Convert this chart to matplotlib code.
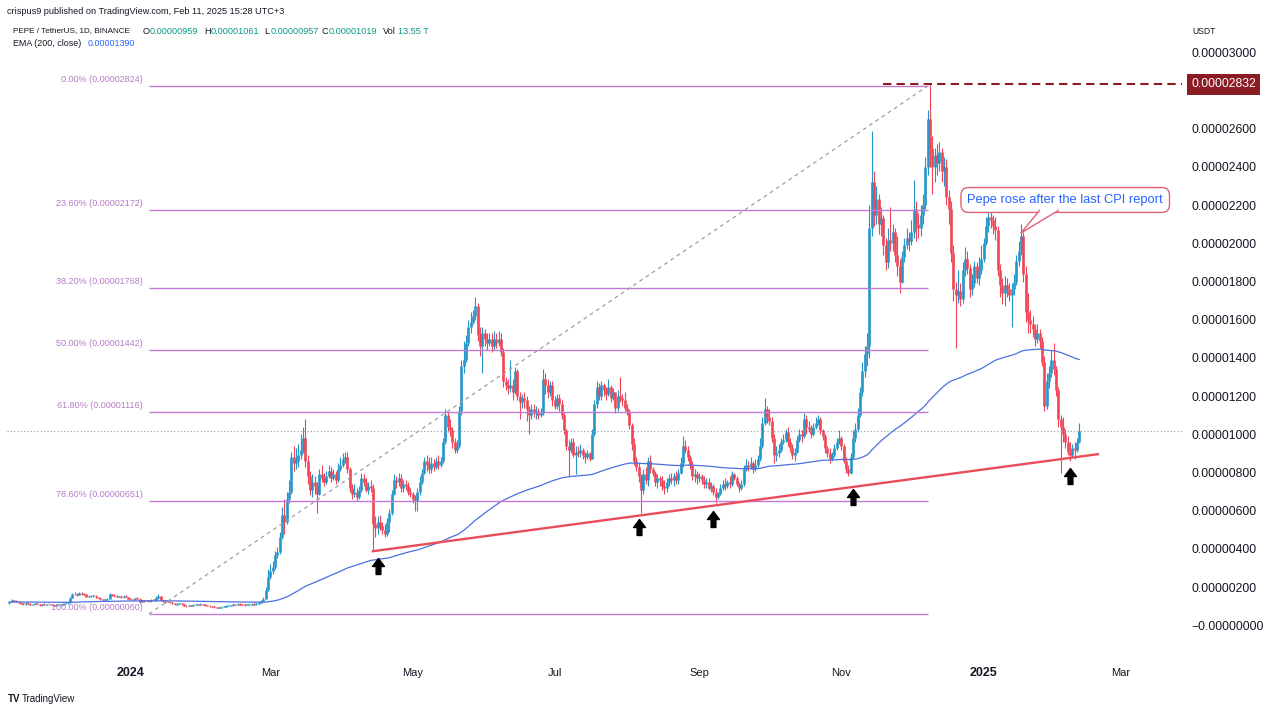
import numpy as np
import matplotlib
matplotlib.use("Agg")
import matplotlib.pyplot as plt
from matplotlib.path import Path
from matplotlib.patches import Polygon

plt.rcParams["font.family"] = ["Liberation Sans", "DejaVu Sans"]

# PEPE / TetherUS daily candles (Binance).
# Prices are in millionths of a USDT: 9.59 means 0.00000959.
# Open of each day is the previous close.
first_day = "2023-11-10"
first_open = 1.15

closes = [
    1.24, 1.30, 1.28, 1.22, 1.18, 1.15, 1.10, 1.18, 1.12, 1.10, 1.12, 1.15, 1.12, 1.05, 1.12, 1.10, 1.12, 1.11, 1.08, 1.04, 1.07, 1.08, 1.10,
    1.12, 1.15, 1.20, 1.45, 1.62, 1.66, 1.60, 1.68, 1.64, 1.62, 1.50, 1.55, 1.52, 1.56, 1.48, 1.45, 1.38, 1.32, 1.34, 1.40, 1.62, 1.58, 1.55, 1.50, 1.52, 1.46, 1.55, 1.48, 1.40, 1.38, 1.36,
    1.42, 1.40, 1.22, 1.30, 1.28, 1.30, 1.26, 1.35, 1.32, 1.45, 1.52, 1.30, 1.28, 1.22, 1.24, 1.20, 1.16, 1.10, 1.12, 1.14, 1.10, 1.02, 1.00, 1.04, 1.03, 1.08, 1.10, 1.09, 1.12, 1.10, 1.05,
    1.02, 1.00, 0.98, 0.95, 0.92, 0.93, 0.96, 0.98, 1.02, 1.03, 1.04, 1.10, 1.08, 1.12, 1.10, 1.08, 1.06, 1.08, 1.10, 1.12, 1.10, 1.15, 1.18, 1.25, 1.40, 1.85, 2.55, 2.85, 3.05,
    3.70, 3.85, 4.60, 5.80, 5.40, 6.60, 7.00, 8.80, 8.50, 8.60, 8.90, 9.20, 9.80, 8.60, 7.80, 7.10, 7.50, 7.30, 6.90, 7.90, 7.70, 7.50, 7.80, 8.10, 7.70, 7.90, 7.60, 8.20, 8.40, 8.70, 8.80,
    8.20, 7.20, 6.90, 7.00, 6.70, 7.10, 7.70, 7.50, 7.10, 7.30, 7.20, 5.30, 5.10, 5.40, 5.20, 5.00, 4.80, 5.40, 5.90, 6.90, 7.60, 7.50, 7.70, 7.20, 7.40, 7.30, 7.00, 6.90, 6.60, 6.50,
    7.00, 7.50, 8.00, 8.60, 8.40, 8.20, 8.50, 8.30, 8.60, 8.40, 8.60, 9.60, 11.00, 10.40, 10.20, 9.60, 9.20, 9.40, 11.20, 13.60, 13.90, 14.80, 15.60, 15.90, 16.20, 16.70, 15.20, 14.60, 15.30, 15.00, 14.80,
    15.00, 14.60, 15.00, 14.80, 15.00, 14.30, 12.80, 12.60, 12.40, 12.60, 12.20, 13.30, 12.00, 11.70, 11.90, 11.80, 11.30, 11.00, 11.30, 11.10, 11.20, 11.00, 11.10, 12.90, 12.60, 12.20, 12.60, 11.80, 11.50, 11.90,
    11.60, 11.00, 10.20, 9.40, 9.20, 9.60, 8.90, 9.10, 9.00, 9.20, 8.90, 8.80, 9.00, 8.70, 10.00, 11.60, 12.50, 12.00, 12.60, 12.30, 12.10, 12.50, 11.90, 12.20, 11.40, 12.00, 11.90, 11.80, 11.40, 11.20, 10.50,
    9.50, 8.60, 8.30, 7.80, 7.10, 7.90, 7.60, 8.60, 8.20, 8.00, 7.50, 7.70, 7.60, 7.30, 7.20, 7.50, 7.70, 7.60, 7.80, 7.60, 8.00, 8.50, 9.40, 9.20, 8.80, 8.40, 7.80, 7.90, 7.70, 7.80, 7.60,
    7.40, 7.50, 7.20, 7.30, 7.00, 6.70, 6.90, 7.20, 7.40, 7.30, 7.50, 7.40, 7.90, 7.70, 7.40, 7.20, 7.40, 8.20, 8.40, 8.30, 8.50, 8.20, 8.40, 8.70, 9.40, 10.60, 11.30, 10.90, 10.70, 9.80,
    8.90, 9.00, 9.20, 9.60, 9.70, 10.10, 9.60, 9.30, 8.90, 9.10, 9.70, 10.00, 9.90, 10.80, 10.40, 10.30, 10.00, 10.40, 10.60, 10.80, 10.20, 9.90, 9.30, 9.00, 8.70, 8.90, 9.30, 9.60, 9.80, 9.40, 8.60,
    8.20, 8.00, 8.80, 9.80, 10.30, 11.00, 12.20, 13.30, 14.20, 14.60, 20.80, 23.20, 21.50, 22.30, 21.00, 21.30, 19.90, 19.00, 20.20, 20.00, 20.60, 19.40, 18.80, 18.00, 19.30, 19.90, 20.30, 20.10,
    20.60, 21.80, 21.00, 20.80, 21.50, 22.00, 24.00, 26.50, 25.00, 24.00, 24.60, 24.20, 24.80, 23.80, 24.00, 22.40, 21.80, 19.50, 17.60, 17.30, 17.50, 17.10, 18.60, 19.20, 18.70, 17.60, 17.90, 18.80, 18.20, 18.60, 19.20,
    20.00, 20.90, 21.40, 21.20, 20.90, 20.70, 18.60, 17.80, 17.40, 17.80, 17.60, 17.30, 17.60, 18.00, 19.10, 19.60, 20.40, 18.40, 16.40, 16.00, 15.80, 15.50, 15.00, 15.30, 14.90, 13.80, 11.50, 12.80, 13.20, 13.90, 13.40,
    12.30, 10.80, 10.40, 10.00, 9.60, 9.10, 8.90, 9.30, 9.20, 9.59, 10.19,
]

highs = [
    1.28, 1.36, 1.34, 1.30, 1.25, 1.21, 1.17, 1.21, 1.20, 1.15, 1.14, 1.17, 1.17, 1.14, 1.14, 1.15, 1.14, 1.15, 1.13, 1.10, 1.09, 1.10, 1.12,
    1.15, 1.17, 1.22, 1.50, 1.68, 1.75, 1.70, 1.72, 1.72, 1.68, 1.64, 1.58, 1.58, 1.60, 1.58, 1.50, 1.48, 1.40, 1.37, 1.43, 1.70, 1.66, 1.62, 1.58, 1.56, 1.54, 1.60, 1.57, 1.50, 1.42, 1.40,
    1.45, 1.48, 1.42, 1.33, 1.33, 1.33, 1.31, 1.38, 1.38, 1.55, 1.62, 1.54, 1.33, 1.30, 1.27, 1.26, 1.22, 1.18, 1.15, 1.17, 1.16, 1.12, 1.04, 1.07, 1.06, 1.10, 1.13, 1.12, 1.15, 1.14, 1.12,
    1.08, 1.05, 1.02, 1.00, 0.98, 0.96, 0.99, 1.01, 1.06, 1.07, 1.08, 1.14, 1.13, 1.15, 1.15, 1.13, 1.10, 1.11, 1.14, 1.16, 1.16, 1.19, 1.22, 1.30, 1.50, 2.00, 2.95, 3.20, 3.35,
    3.90, 4.10, 4.90, 6.20, 6.60, 7.00, 7.60, 9.10, 9.40, 9.30, 9.50, 10.00, 10.40, 10.80, 8.90, 8.10, 7.90, 7.80, 7.50, 8.20, 8.40, 8.00, 8.10, 8.40, 8.30, 8.20, 8.10, 8.50, 8.80, 9.00, 9.10,
    9.10, 8.30, 7.40, 7.40, 7.20, 7.30, 8.00, 7.90, 7.70, 7.50, 7.60, 7.40, 5.70, 5.70, 5.80, 5.40, 5.30, 5.60, 6.10, 7.10, 7.90, 7.80, 8.00, 7.90, 7.60, 7.60, 7.50, 7.20, 7.00, 6.80,
    7.20, 7.80, 8.20, 8.80, 8.90, 8.80, 8.80, 8.70, 8.80, 8.90, 8.80, 9.80, 11.30, 11.20, 10.80, 10.40, 9.80, 9.70, 11.50, 13.90, 14.90, 15.20, 16.00, 16.40, 16.50, 17.20, 16.90, 15.60, 15.60, 15.50, 15.30,
    15.30, 15.30, 15.40, 15.30, 15.40, 15.30, 14.50, 13.00, 12.90, 13.90, 12.90, 13.50, 13.40, 12.20, 12.10, 12.20, 12.00, 11.50, 11.60, 11.60, 11.50, 11.40, 11.40, 13.40, 13.20, 12.90, 12.80, 12.80, 12.00, 12.10,
    12.10, 11.80, 11.10, 10.30, 9.70, 9.80, 9.80, 9.40, 9.40, 9.50, 9.30, 9.10, 9.20, 9.10, 10.30, 11.80, 12.80, 12.70, 12.80, 12.70, 12.50, 12.90, 12.60, 12.40, 12.20, 12.30, 13.00, 12.10, 12.20, 11.60, 11.30,
    10.60, 9.80, 8.80, 8.50, 7.90, 8.20, 8.30, 8.80, 8.90, 8.30, 8.10, 7.90, 7.80, 7.80, 7.60, 7.70, 7.90, 8.00, 8.00, 8.10, 8.20, 8.80, 9.90, 9.70, 9.40, 8.90, 8.60, 8.20, 8.10, 8.00, 7.90,
    7.80, 7.70, 7.70, 7.50, 7.40, 7.20, 7.00, 7.40, 7.60, 7.70, 7.60, 7.80, 8.10, 8.00, 7.80, 7.50, 7.60, 8.40, 8.70, 8.60, 8.80, 8.60, 8.70, 8.90, 9.80, 10.90, 11.90, 11.50, 11.30, 10.90,
    10.00, 9.40, 9.50, 9.80, 10.00, 10.30, 10.40, 9.80, 9.50, 9.30, 9.90, 10.30, 10.20, 11.10, 11.00, 10.70, 10.50, 10.60, 10.90, 11.00, 10.90, 10.30, 10.00, 9.40, 9.30, 9.10, 9.50, 9.80, 10.20, 9.90, 9.50,
    8.80, 8.40, 9.00, 10.20, 10.60, 11.40, 12.50, 13.80, 14.60, 15.30, 22.00, 25.90, 23.80, 23.00, 22.60, 21.90, 21.50, 20.30, 20.80, 21.90, 21.00, 20.80, 20.40, 19.20, 19.60, 20.30, 20.80, 20.60,
    21.20, 23.30, 22.20, 21.60, 22.00, 22.60, 24.50, 27.00, 28.32, 25.60, 25.00, 25.20, 25.30, 25.00, 24.50, 24.40, 22.80, 22.20, 19.90, 18.00, 18.60, 17.90, 19.00, 19.80, 19.60, 18.90, 18.40, 19.10, 19.00, 19.30, 19.90,
    20.30, 21.40, 21.80, 21.90, 21.50, 21.40, 20.90, 18.90, 18.20, 18.30, 18.20, 17.90, 17.90, 18.40, 19.40, 20.10, 21.00, 20.60, 18.80, 17.40, 16.50, 16.20, 15.80, 15.80, 15.50, 15.10, 14.10, 13.20, 13.60, 14.40, 14.80,
    13.60, 12.50, 11.00, 10.90, 10.30, 9.90, 9.60, 9.50, 9.60, 9.80, 10.61,
]

lows = [
    1.12, 1.21, 1.25, 1.20, 1.16, 1.13, 1.07, 1.08, 1.10, 1.07, 1.08, 1.10, 1.10, 1.02, 1.03, 1.08, 1.08, 1.09, 1.06, 1.02, 1.02, 1.05, 1.06,
    1.08, 1.10, 1.13, 1.18, 1.42, 1.58, 1.55, 1.58, 1.60, 1.58, 1.48, 1.47, 1.49, 1.50, 1.45, 1.42, 1.35, 1.29, 1.30, 1.32, 1.38, 1.54, 1.52, 1.47, 1.48, 1.44, 1.44, 1.46, 1.38, 1.35, 1.32,
    1.33, 1.36, 1.15, 1.20, 1.24, 1.26, 1.23, 1.24, 1.28, 1.28, 1.40, 1.26, 1.24, 1.19, 1.20, 1.18, 1.14, 1.08, 1.08, 1.10, 1.08, 1.00, 0.96, 0.99, 1.00, 1.01, 1.06, 1.06, 1.07, 1.08, 1.02,
    1.00, 0.97, 0.96, 0.92, 0.88, 0.90, 0.92, 0.95, 0.97, 1.00, 1.01, 1.02, 1.05, 1.06, 1.07, 1.05, 1.03, 1.04, 1.06, 1.08, 1.06, 1.08, 1.13, 1.16, 1.22, 1.38, 1.80, 2.40, 2.70,
    2.95, 3.50, 3.75, 4.50, 4.80, 5.30, 6.40, 6.90, 8.10, 8.20, 8.30, 8.70, 9.00, 8.30, 7.40, 6.80, 6.70, 6.90, 5.90, 6.80, 7.50, 7.30, 7.40, 7.70, 7.50, 7.60, 7.40, 7.50, 8.10, 8.30, 8.50,
    8.00, 7.00, 6.60, 6.70, 6.50, 6.60, 7.00, 7.30, 7.00, 6.90, 7.00, 3.90, 4.60, 4.80, 5.00, 4.80, 4.60, 4.70, 4.90, 5.80, 6.80, 7.20, 7.30, 7.00, 7.00, 7.10, 6.80, 6.70, 6.40, 6.00,
    6.00, 6.80, 7.40, 7.90, 8.10, 8.00, 8.00, 8.10, 8.20, 8.20, 8.30, 8.50, 9.50, 10.10, 9.90, 9.30, 9.00, 9.00, 9.30, 11.00, 13.20, 13.80, 14.60, 15.30, 15.80, 16.00, 14.90, 14.10, 13.20, 14.60, 14.40,
    14.60, 14.30, 14.40, 14.50, 14.60, 14.10, 12.50, 12.30, 12.10, 12.20, 11.80, 12.10, 11.80, 10.80, 11.40, 11.40, 10.70, 10.00, 10.80, 10.90, 10.80, 10.80, 10.90, 11.00, 12.10, 11.90, 12.00, 11.50, 11.30, 11.30,
    11.20, 10.80, 10.00, 9.20, 7.80, 9.00, 8.80, 7.90, 8.80, 8.80, 8.70, 8.50, 8.70, 8.60, 8.70, 9.90, 11.40, 11.80, 11.80, 12.00, 11.80, 12.00, 11.70, 11.80, 11.10, 11.20, 11.70, 11.50, 11.20, 11.00, 10.30,
    9.20, 8.40, 8.10, 7.50, 5.90, 6.90, 7.40, 7.30, 8.00, 7.80, 7.30, 7.20, 7.30, 7.10, 6.90, 7.00, 7.30, 7.40, 7.30, 7.40, 7.40, 7.90, 8.30, 9.00, 8.60, 8.20, 7.60, 7.50, 7.40, 7.50, 7.40,
    7.20, 7.20, 7.10, 7.00, 6.80, 6.40, 6.60, 6.80, 7.10, 7.10, 7.20, 7.20, 7.30, 7.60, 7.30, 7.00, 7.10, 7.30, 8.10, 8.10, 8.20, 8.00, 8.10, 8.30, 8.60, 9.30, 10.50, 10.60, 10.50, 9.60,
    8.50, 8.60, 8.80, 9.10, 9.50, 9.60, 9.40, 9.10, 8.70, 8.60, 9.00, 9.60, 9.60, 9.80, 10.00, 10.10, 9.80, 9.90, 10.30, 10.50, 10.00, 9.70, 9.00, 8.80, 8.50, 8.60, 8.80, 9.20, 9.50, 9.20, 8.50,
    8.00, 7.80, 7.90, 8.70, 9.60, 10.10, 10.90, 12.00, 13.00, 13.60, 14.00, 20.40, 20.90, 21.00, 20.50, 20.40, 19.40, 18.60, 18.70, 19.60, 19.60, 19.00, 18.30, 17.40, 17.90, 19.00, 19.70, 19.60,
    19.90, 20.30, 20.10, 20.30, 20.40, 21.00, 21.80, 23.60, 24.00, 22.60, 23.20, 23.60, 23.80, 23.20, 23.00, 22.00, 21.00, 19.00, 17.00, 14.50, 16.90, 16.70, 16.90, 18.30, 18.40, 17.20, 17.30, 17.70, 17.90, 17.80, 18.40,
    19.00, 19.90, 20.60, 20.80, 20.50, 20.20, 18.30, 17.20, 16.80, 16.70, 17.20, 17.00, 15.60, 17.30, 17.80, 18.80, 19.40, 18.00, 15.90, 15.30, 15.30, 15.10, 14.60, 14.80, 14.50, 13.60, 11.20, 11.30, 12.40, 13.00, 13.10,
    12.00, 10.40, 8.00, 9.60, 9.30, 8.90, 8.60, 8.80, 8.70, 9.10, 9.57,
]

ema_seed = 1.22              # EMA(200) level at the left edge of the chart
ema_label = "0.00001390"
last_volume = "13.55 T"

# Fibonacci retracement drawn by the author
fib_levels = [0.0, 0.236, 0.382, 0.5, 0.618, 0.786, 1.0]
fib_prices = [28.24, 21.72, 17.68, 14.42, 11.16, 6.51, 0.60]
fib_span = ["2024-01-09", "2024-12-08"]

# rising support line and the arrows under it
support_dates = ["2024-04-14", "2025-02-19"]
support_prices = [3.88, 8.96]
arrow_dates = ["2024-04-16", "2024-08-06", "2024-09-07", "2024-11-06", "2025-02-07"]
arrow_prices = [3.09, 5.15, 5.57, 6.72, 7.82]

peak_price = 28.32
peak_line_from = "2024-11-19"

note_text = "Pepe rose after the last CPI report"
note_date, note_price = "2025-02-05", 22.27
note_tip_date, note_tip_price = "2025-01-17", 20.54
note_base_dates = ["2025-01-25", "2025-02-02"]

tick_dates = ["2024-01-01", "2024-03-01", "2024-05-01", "2024-07-01",
              "2024-09-01", "2024-11-01", "2025-01-01", "2025-03-01"]
tick_labels = ["2024", "Mar", "May", "Jul", "Sep", "Nov", "2025", "Mar"]
price_ticks = [0, 2, 4, 6, 8, 10, 12, 14, 16, 18, 20, 22, 24, 26, 28, 30]
price_tick_labels = ["\u22120.00000000", "0.00000200", "0.00000400", "0.00000600",
                     "0.00000800", "0.00001000", "0.00001200", "0.00001400",
                     "0.00001600", "0.00001800", "0.00002000", "0.00002200",
                     "0.00002400", "0.00002600", "0.00002800", "0.00003000"]

M = 1e-6
origin = np.datetime64("2024-01-01")


def day(s):
    return float((np.datetime64(s) - origin).astype(int))


c = np.array(closes) * M
o = np.r_[first_open * M, c[:-1]]
h = np.maximum(np.array(highs) * M, np.maximum(o, c))
l = np.minimum(np.array(lows) * M, np.minimum(o, c))
t = (np.datetime64(first_day) + np.arange(len(c)) - origin).astype(int)

UP, DOWN = "#2596c8", "#ef4556"
DARK = "#131722"
col = np.where(c >= o, UP, DOWN)

W, H = 1280, 712
fig = plt.figure(figsize=(W / 100, H / 100), dpi=100)
ax = fig.add_axes([7 / W, 1 - 655 / H, 1175 / W, 655 / H])
ax.set_xlim(-52.98, 451.1)
ax.set_ylim(-1.555 * M, 32.74 * M)
for s in ax.spines.values():
    s.set_visible(False)

# candles: thin wick + thicker body line
ax.vlines(t, l, h, colors=col, lw=0.8, zorder=2)
top = np.maximum(o, c)
bot = np.minimum(o, c)
pad = np.maximum(0.05 * M - (top - bot), 0) / 2
ax.vlines(t, bot - pad, top + pad, colors=col, lw=1.9, zorder=2.1,
          capstyle="butt")

# EMA 200 of the closes
ema = []
val = ema_seed * M
for price in c:
    val += (price - val) * 2 / 201
    ema.append(val)
ax.plot(t, ema, color="#4c6fe0", lw=0.9, zorder=3)

# current price
ax.axhline(c[-1], color="#9598a1", lw=0.8, ls=(0, (1, 2)), zorder=3)

# fib retracement
f0, f1 = day(fib_span[0]), day(fib_span[1])
for lvl, p in zip(fib_levels, fib_prices):
    ax.hlines(p * M, f0, f1, color="#c27bd4", lw=1.0, zorder=4)
    ax.annotate(f"{lvl * 100:.2f}% ({p * M:.8f})", (f0, p * M), xytext=(-4.5, 1.5),
                textcoords="offset points", ha="right", va="bottom",
                fontsize=6.5, color="#b47cc7", zorder=5)
ax.plot([f0, f1], [fib_prices[-1] * M, fib_prices[0] * M], color="#9e9e9e",
        lw=0.9, ls=(0, (3, 3)), zorder=4)

# support line + arrows
ax.plot([day(d) for d in support_dates], np.array(support_prices) * M,
        color="#ea4c5a", lw=1.7, zorder=5)
arrow = Path([(0, 0.5), (0.375, 0.0), (0.15, 0.0), (0.15, -0.5), (-0.15, -0.5),
              (-0.15, 0.0), (-0.375, 0.0), (0, 0.5)],
             [Path.MOVETO] + [Path.LINETO] * 6 + [Path.CLOSEPOLY])
ax.plot([day(d) for d in arrow_dates], np.array(arrow_prices) * M, ls="none",
        marker=arrow, ms=11.5, color="black", mec="black", zorder=6)

# all time high line + price tag
ax.hlines(peak_price * M, day(peak_line_from), ax.get_xlim()[1], colors="#8c1c24",
          lw=1.5, linestyles=(0, (4, 2.5)), zorder=5)
ax.annotate(f"{peak_price * M:.8f}", xy=(1, peak_price * M),
            xycoords=("axes fraction", "data"), xytext=(6.5, 0),
            textcoords="offset points", ha="left", va="center", fontsize=8.8,
            color="white", bbox=dict(boxstyle="square,pad=0.35", fc="#8c1c24", ec="none"),
            zorder=10, annotation_clip=False)

# callout
ax.text(day(note_date), note_price * M, note_text, ha="center", va="center",
        fontsize=9.3, color="#2962ff", zorder=7,
        bbox=dict(boxstyle="round,pad=0.5,rounding_size=0.6", fc="white",
                  ec="#e0607a", lw=1.0))
tip = (day(note_tip_date), note_tip_price * M)
base_y = (note_price - 0.55) * M
b0, b1 = day(note_base_dates[0]), day(note_base_dates[1])
ax.add_patch(Polygon([tip, (b0, base_y), (b1, base_y)], closed=True, fc="white",
                     ec="none", zorder=8))
ax.plot([b0, tip[0], b1], [base_y, tip[1], base_y], color="#e0607a", lw=1.0, zorder=8)

# axes
ax.set_xticks([day(d) for d in tick_dates])
ax.set_xticklabels(tick_labels)
ax.tick_params(axis="x", length=0, pad=9, labelsize=8, colors=DARK)
for lbl in ax.get_xticklabels():
    if lbl.get_text().isdigit():
        lbl.set_fontweight("bold")
        lbl.set_fontsize(9)
ax.yaxis.tick_right()
ax.set_yticks(np.array(price_ticks) * M)
ax.set_yticklabels(price_tick_labels)
ax.tick_params(axis="y", length=0, pad=6.5, labelsize=8.8, colors=DARK)


def ftext(x, y, s, **kw):
    fig.text(x / W, 1 - y / H, s, va="center", **kw)


ftext(1192, 32, "USDT", fontsize=6.2, color=DARK)

# header
ftext(7, 12, "crispus9 published on TradingView.com, Feb 11, 2025 15:28 UTC+3",
      fontsize=6.6, color=DARK)
GREEN = "#089981"
ftext(13, 31, "PEPE / TetherUS, 1D, BINANCE", fontsize=5.9, color=DARK)
header = [("O", 143, o[-1]), ("H", 204, h[-1]), ("L", 264, l[-1]), ("C", 322, c[-1])]
for key, xx, v in header:
    ftext(xx, 31, key, fontsize=6.6, color=DARK)
    ftext(xx + 6.5, 31, f"{v:.8f}", fontsize=6.6, color=GREEN)
ftext(383, 31, "Vol", fontsize=6.6, color=DARK)
ftext(398, 31, last_volume, fontsize=6.6, color=GREEN)
ftext(13, 43, "EMA (200, close)", fontsize=6.4, color=DARK)
ftext(88, 43, ema_label, fontsize=6.4, color="#2962ff")

# footer logo
ftext(8, 699, "TV", fontsize=7, color=DARK, fontweight="bold")
ftext(22, 699, "TradingView", fontsize=7, color=DARK)

fig.savefig("out.png", dpi=100, facecolor="white")
